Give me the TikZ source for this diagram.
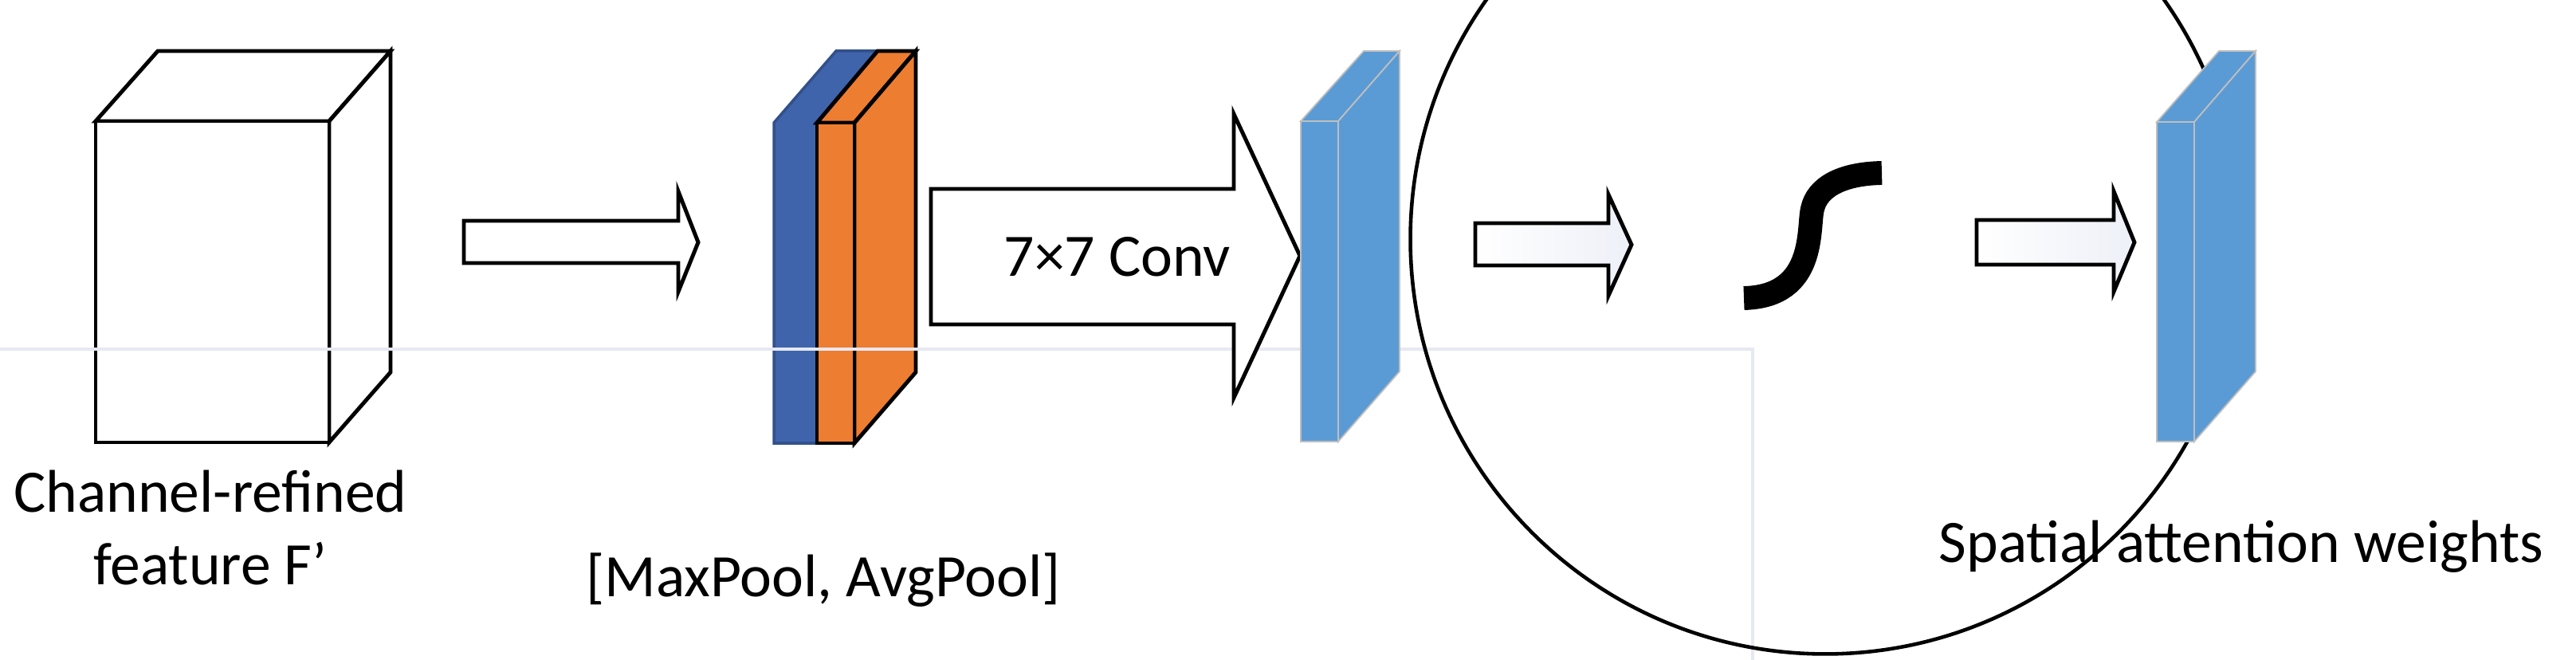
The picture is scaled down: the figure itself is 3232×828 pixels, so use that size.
\documentclass[tikz,border=0pt]{standalone}
\usepackage{fontspec}
\setmainfont{Carlito}
\definecolor{dblue}{HTML}{3F64AC}
\definecolor{orng}{HTML}{ED7D31}
\definecolor{lblue}{HTML}{5B9BD5}
\definecolor{boxc}{HTML}{E6E8F2}
\definecolor{lav}{HTML}{EEF0F8}
\begin{document}
\begin{tikzpicture}[x=0.01cm,y=-0.01cm,
  edge/.style={line width=1.4pt,line join=miter},
  barrow/.style={edge,fill=white},
  garrow/.style={edge,left color=white,right color=lav},
  lslab/.style={fill=lblue,draw=black!25,line width=0.5pt},
  lbl/.style={font=\fontsize{21.5pt}{26pt}\selectfont,align=center,inner sep=0pt}]
\useasboundingbox (0,0) rectangle (3232,828);
% cube
\draw[edge,fill=white] (120,152) -- (198,64) -- (490,64) -- (413,152) -- cycle;
\draw[edge,fill=white] (413,152) -- (490,64) -- (490,467) -- (413,555) -- cycle;
\draw[edge,fill=white] (120,152) rectangle (413,555);
\node[lbl] (cube) at (264,662) {Channel-refined\\feature F’};
% arrow 1
\draw[barrow] (582,277) -- (851,277) -- (851,240) -- (876,304) -- (851,366) -- (851,330) -- (582,330) -- cycle;
% pooled slabs
\draw[fill=dblue,draw=dblue!80!black,line width=1pt] (971,154) -- (1049,64) -- (1098,64) -- (1098,467) -- (1023,556) -- (971,556) -- cycle;
\draw[edge,fill=orng] (1025,154) -- (1101,64) -- (1149,64) -- (1072,154) -- cycle;
\draw[edge,fill=orng] (1072,154) -- (1149,64) -- (1149,467) -- (1072,556) -- cycle;
\draw[edge,fill=orng] (1025,154) rectangle (1072,556);
\node[draw=boxc,line width=1.2pt,minimum width=663,minimum height=163,inner sep=0pt] (box) at (1033,725) {};
\node[lbl] (pool) at (1033,728) {[MaxPool, AvgPool]};
% conv arrow
\draw[barrow] (1168,237) -- (1548,237) -- (1548,143) -- (1631,321) -- (1548,499) -- (1548,407) -- (1168,407) -- cycle;
\node[lbl] (conv) at (1402,322) {7×7 Conv};
% slab 2
\draw[lslab] (1632,152) -- (1711,64) -- (1756,64) -- (1679,152) -- cycle;
\draw[lslab] (1679,152) -- (1756,64) -- (1756,466) -- (1679,554) -- cycle;
\draw[lslab] (1632,152) rectangle (1679,554);
% arrow 3
\draw[garrow] (1851,280) -- (2018,280) -- (2018,244) -- (2047,307) -- (2018,371) -- (2018,333) -- (1851,333) -- cycle;
% sigmoid
\node[draw,line width=1.3pt,circle,minimum size=296,inner sep=0pt] (sig) at (2290,300) {};
\draw[line width=8.5pt] (2188,374) .. controls (2280,372) and (2268,285) .. (2274,262) .. controls (2280,235) and (2310,218) .. (2361,217);
% arrow 4
\draw[garrow] (2480,276) -- (2652,276) -- (2652,240) -- (2678,304) -- (2652,366) -- (2652,332) -- (2480,332) -- cycle;
% slab 3
\draw[lslab] (2706,153) -- (2784,64) -- (2830,64) -- (2753,153) -- cycle;
\draw[lslab] (2753,153) -- (2830,64) -- (2830,466) -- (2753,554) -- cycle;
\draw[lslab] (2706,153) rectangle (2753,554);
\node[lbl] (out) at (2812,686) {Spatial attention weights};
\end{tikzpicture}
\end{document}
